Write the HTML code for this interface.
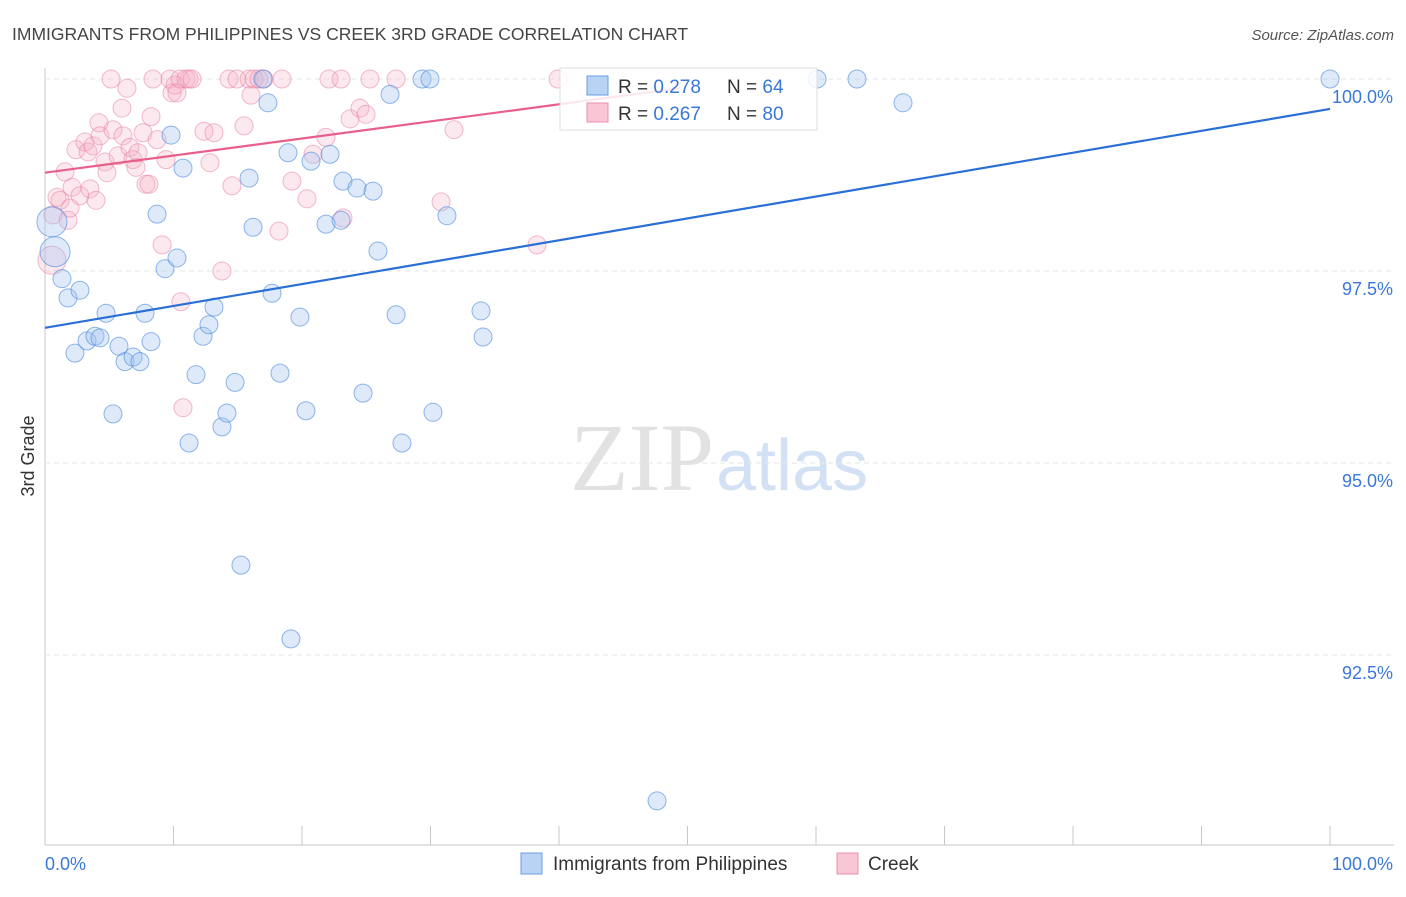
<!DOCTYPE html>
<html><head><meta charset="utf-8"><style>
body{margin:0;background:#fff;font-family:"Liberation Sans",sans-serif}
#wrap{position:relative;width:1406px;height:892px}
</style></head><body>
<div id="wrap">
<svg id="svg" width="1406" height="892" xmlns="http://www.w3.org/2000/svg">
<text x="12" y="40" font-size="17.5" fill="#444">IMMIGRANTS FROM PHILIPPINES VS CREEK 3RD GRADE CORRELATION CHART</text>
<text x="1394" y="40" font-size="15" fill="#555" text-anchor="end" font-style="italic">Source: ZipAtlas.com</text>
<text x="34" y="456" font-size="18" fill="#333" text-anchor="middle" transform="rotate(-90 34 456)">3rd Grade</text>
<text x="714" y="490" font-size="96" fill="#e2e2e2" text-anchor="end" font-family="Liberation Serif,serif">ZIP</text>
<text x="716" y="490" font-size="72" fill="#d3e1f4">atlas</text>
<g id="grid"></g><g id="pts"></g><g id="lines"></g>
<g>
<rect x="560" y="68" width="257" height="62" fill="rgba(255,255,255,0.85)" stroke="#ddd"/>
<rect x="587" y="76" width="21" height="19" fill="#b9d3f5" stroke="#6a9ee6"/>
<text x="618" y="93" font-size="19" fill="#333">R = <tspan fill="#3a78d8">0.278</tspan></text>
<text x="727" y="93" font-size="19" fill="#333">N = <tspan fill="#3a78d8">64</tspan></text>
<rect x="587" y="103" width="21" height="19" fill="#f8c6d4" stroke="#e890aa"/>
<text x="618" y="120" font-size="19" fill="#333">R = <tspan fill="#3a78d8">0.267</tspan></text>
<text x="727" y="120" font-size="19" fill="#333">N = <tspan fill="#3a78d8">80</tspan></text>
</g>
<g>
<rect x="521" y="853" width="21" height="21" fill="#b9d3f5" stroke="#6a9ee6"/>
<text x="553" y="870" font-size="19" fill="#333">Immigrants from Philippines</text>
<rect x="837" y="853" width="21" height="21" fill="#f8c6d4" stroke="#e890aa"/>
<text x="868" y="870" font-size="19" fill="#333">Creek</text>
</g>
</svg></div>
<script>
const blueX=[0.54,0.78,1.32,1.79,2.72,2.33,3.27,3.89,4.28,4.75,5.29,5.76,6.23,6.85,7.39,7.78,8.25,8.72,9.34,9.81,10.27,10.74,11.21,11.75,12.30,12.76,13.15,13.77,14.16,14.79,15.25,15.88,16.19,16.96,17.35,17.67,18.29,18.91,19.14,19.84,20.31,20.70,21.87,22.18,23.04,23.19,24.28,24.75,25.53,25.91,26.85,27.32,27.78,29.34,29.96,30.19,31.28,33.93,34.09,47.63,60.08,63.19,66.77,100];
const blueY=[98.14,97.75,97.40,97.15,97.25,96.43,96.59,96.65,96.63,96.95,95.64,96.52,96.32,96.38,96.32,96.95,96.58,98.24,97.53,99.27,97.67,98.84,95.26,96.15,96.65,96.80,97.03,95.47,95.65,96.05,93.67,98.71,98.07,100,99.69,97.21,96.17,99.04,92.71,96.90,95.68,98.93,98.11,99.02,98.16,98.67,98.58,95.91,98.54,97.76,99.80,96.93,95.26,100,100,95.66,98.22,96.98,96.64,90.60,100,100,99.69,100];
const pinkX=[0.54,0.62,0.93,1.17,1.56,1.79,1.95,2.10,2.41,2.72,3.11,3.35,3.50,3.74,3.97,4.20,4.28,4.67,4.82,5.14,5.29,5.68,5.99,6.07,6.38,6.61,6.85,7.08,7.24,7.63,7.86,8.09,8.25,8.40,8.72,9.11,9.42,9.73,9.88,10.12,10.27,10.51,10.58,10.74,10.97,11.21,11.44,12.37,12.84,13.15,13.77,14.32,14.55,14.94,15.49,15.88,16.03,16.26,16.65,17.04,18.21,18.44,19.22,20.39,20.86,21.87,22.10,23.04,23.19,23.74,24.51,24.98,25.29,27.32,30.82,31.83,38.29,39.92];
const pinkY=[97.64,98.23,98.46,98.42,98.79,98.16,98.32,98.59,99.08,98.48,99.18,99.05,98.57,99.13,98.42,99.43,99.26,98.92,98.78,100,99.34,99.00,99.62,99.26,99.88,99.11,98.95,98.85,99.04,99.30,98.63,98.63,99.51,100,99.21,97.84,98.95,100,99.82,99.92,99.82,100,97.10,95.72,100,100,100,99.32,98.91,99.30,97.50,100,98.61,100,99.39,100,99.79,100,100,100,98.02,100,98.67,98.44,99.02,99.24,100,100,98.19,99.48,99.62,99.54,100,100,98.40,99.34,97.84,100];
const blueTrendX=[0,100], blueTrendY=[96.76,99.61];
const pinkTrendX=[0,49.4], pinkTrendY=[98.78,99.88];
const yTicks=[100,97.5,95,92.5];
const yTickLabels=["100.0%","97.5%","95.0%","92.5%"];
const xTicks=[0,10,20,30,40,50,60,70,80,90,100];
const NS="http://www.w3.org/2000/svg";
const X=v=>45+v*12.85, Y=v=>79+(100-v)*76.8;
function mk(tag,attrs,parent){const e=document.createElementNS(NS,tag);for(const k in attrs)e.setAttribute(k,attrs[k]);parent.appendChild(e);return e;}
const grid=document.getElementById('grid'),pts=document.getElementById('pts'),lines=document.getElementById('lines');
let ax=mk('line',{x1:45,y1:68,x2:45,y2:845,stroke:'#c8c8c8'},grid);


let bx=mk('line',{x1:45,y1:845,x2:1394,y2:845,stroke:'#c8c8c8'},grid);


yTicks.forEach((t,i)=>{
 const g=mk('line',{x1:45,y1:Y(t),x2:1394,y2:Y(t),stroke:'#e6e6e6','stroke-dasharray':'5,4'},grid);
 
 
 const tx=mk('text',{x:1393,y:Y(t)+24,'font-size':18,fill:'#3a78d8','text-anchor':'end'},grid);
 tx.textContent=yTickLabels[i];
 
 
});
xTicks.forEach(t=>{
 const l=mk('line',{x1:X(t),y1:826,x2:X(t),y2:845,stroke:'#c8c8c8'},grid);
 
 
});
const xl=mk('text',{x:45,y:870,'font-size':18,fill:'#3a78d8'},grid);xl.textContent='0.0%';


const xr=mk('text',{x:1393,y:870,'font-size':18,fill:'#3a78d8','text-anchor':'end'},grid);xr.textContent='100.0%';


pinkX.forEach((x,i)=>{
 const c=mk('circle',{cx:X(x),cy:Y(pinkY[i]),r:i==0?14:9,fill:'rgba(246,175,198,0.28)',stroke:'rgba(232,130,162,0.55)','stroke-width':1},pts);
 
 
});
blueX.forEach((x,i)=>{
 const c=mk('circle',{cx:X(x),cy:Y(blueY[i]),r:(i==0||i==1)?15:9,fill:'rgba(160,196,240,0.35)',stroke:'rgba(70,135,220,0.6)','stroke-width':1},pts);
 
 
});
const bl=mk('line',{x1:X(blueTrendX[0]),y1:Y(blueTrendY[0]),x2:X(blueTrendX[1]),y2:Y(blueTrendY[1]),stroke:'#2a6fd6','stroke-width':2.2},lines);


const pl=mk('line',{x1:X(pinkTrendX[0]),y1:Y(pinkTrendY[0]),x2:X(pinkTrendX[1]),y2:Y(pinkTrendY[1]),stroke:'#e8608a','stroke-width':2.2},lines);


</script>
</body></html>
